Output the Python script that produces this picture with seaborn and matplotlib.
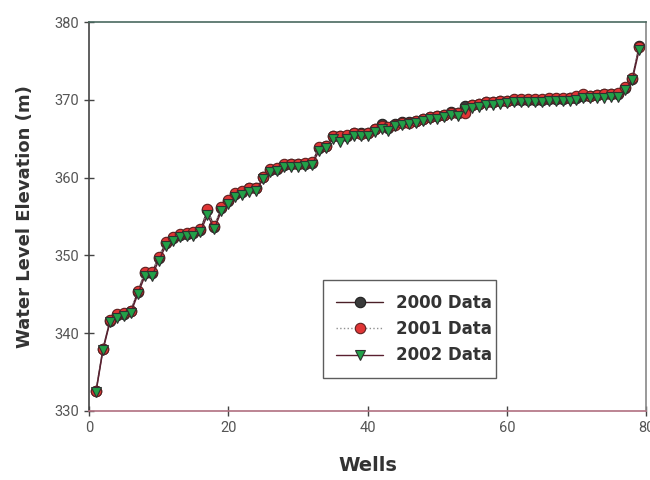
import matplotlib
matplotlib.use("Agg")
import matplotlib.pyplot as plt
import seaborn as sns
import pandas as pd

wells = list(range(1, 80))
w2000 = [332.6, 338.0, 341.6, 342.3, 342.5, 342.9, 345.3, 347.7, 347.7, 349.7,
         351.6, 352.2, 352.6, 352.8, 352.9, 353.3, 355.8, 353.7, 356.1, 357.0,
         357.9, 358.2, 358.6, 358.6, 360.1, 361.0, 361.1, 361.6, 361.7, 361.7,
         361.8, 361.9, 363.8, 364.1, 365.3, 365.3, 365.4, 365.7, 365.7, 365.7,
         366.2, 366.9, 366.4, 366.9, 367.1, 367.2, 367.3, 367.6, 367.8, 367.9,
         368.1, 368.4, 368.3, 369.2, 369.3, 369.5, 369.7, 369.7, 369.8, 369.9,
         370.0, 370.0, 370.0, 370.0, 370.0, 370.1, 370.1, 370.1, 370.2, 370.3,
         370.5, 370.5, 370.6, 370.7, 370.7, 370.8, 371.5, 372.7, 376.9]
w2001 = [332.6, 338.0, 341.7, 342.4, 342.6, 342.9, 345.4, 347.8, 347.8, 349.8,
         351.7, 352.3, 352.8, 352.9, 353.0, 353.4, 355.9, 353.8, 356.2, 357.1,
         358.0, 358.3, 358.7, 358.7, 360.1, 361.1, 361.2, 361.7, 361.8, 361.8,
         361.9, 362.0, 363.9, 364.1, 365.3, 365.3, 365.5, 365.7, 365.6, 365.7,
         366.2, 366.7, 366.5, 366.8, 367.0, 367.0, 367.3, 367.6, 367.8, 367.9,
         368.1, 368.3, 368.3, 368.3, 369.3, 369.5, 369.7, 369.7, 369.8, 369.9,
         370.1, 370.1, 370.1, 370.1, 370.1, 370.2, 370.2, 370.2, 370.3, 370.5,
         370.7, 370.5, 370.6, 370.8, 370.8, 370.9, 371.7, 372.8, 376.8]
w2002 = [332.4, 337.8, 341.4, 342.0, 342.2, 342.6, 345.0, 347.3, 347.3, 349.3,
         351.2, 351.9, 352.3, 352.5, 352.5, 353.0, 355.2, 353.4, 355.7, 356.6,
         357.5, 357.8, 358.2, 358.3, 359.8, 360.7, 360.8, 361.3, 361.4, 361.4,
         361.5, 361.6, 363.4, 363.8, 364.9, 364.6, 365.0, 365.4, 365.4, 365.4,
         365.9, 366.2, 366.0, 366.6, 366.8, 366.9, 367.0, 367.3, 367.5, 367.6,
         367.8, 368.1, 367.9, 368.8, 369.0, 369.1, 369.3, 369.4, 369.5, 369.6,
         369.7, 369.7, 369.7, 369.7, 369.7, 369.8, 369.8, 369.8, 369.9, 370.0,
         370.2, 370.2, 370.3, 370.3, 370.4, 370.4, 371.3, 372.5, 376.4]
labels = ["2000 Data", "2001 Data", "2002 Data"]
x_ticks = [0, 20, 40, 60, 80]
y_ticks = [330, 340, 350, 360, 370, 380]

df = pd.DataFrame({"Well": wells, labels[0]: w2000, labels[1]: w2001, labels[2]: w2002})

sns.set_theme(style="white")
plt.rcParams['font.family'] = ['DejaVu Sans']

fig = plt.figure(figsize=(6.5, 4.8), dpi=100)
ax = fig.add_axes([0.137, 0.144, 0.857, 0.810])

styles = [
    dict(color="#4a2028", linestyle="-", marker="o", markerfacecolor="#3a3a3a",
         markeredgecolor="#202020", markersize=7.5),
    dict(color="#909090", linestyle=":", marker="o", markerfacecolor="#e03535",
         markeredgecolor="#602020", markersize=7.5),
    dict(color="#5a2030", linestyle="-", marker="v", markerfacecolor="#22a048",
         markeredgecolor="#303030", markersize=6.5),
]
for lab, st in zip(labels, styles):
    sns.lineplot(data=df, x="Well", y=lab, ax=ax, label=lab, linewidth=1.0,
                 markeredgewidth=0.8, **st)

ax.set_xlim(0, 80)
ax.set_ylim(330, 380)
ax.set_xticks(x_ticks)
ax.set_yticks(y_ticks)
for t in ax.get_xticklabels() + ax.get_yticklabels():
    t.set_family(['Liberation Sans Narrow', 'Roboto', 'DejaVu Sans'])
    t.set_fontsize(10.5)
    t.set_color("#555555")
ax.tick_params(axis="both", direction="inout", length=7, width=1, color="#444444",
               pad=4, left=True, bottom=True)

ax.set_xlabel("Wells", fontsize=14, fontweight="bold", color="#333333", labelpad=15)
ax.set_ylabel("Water Level Elevation (m)", fontsize=13, fontweight="bold",
              color="#333333", labelpad=14)

ax.spines["left"].set_color("#444444")
ax.spines["bottom"].set_color("#b07080")
ax.spines["top"].set_color("#4a6a60")
ax.spines["right"].set_color("#888888")
for s in ax.spines.values():
    s.set_linewidth(1.2)

leg = ax.legend(loc="lower left", bbox_to_anchor=(0.42, 0.085, 0.31, 0.257),
                mode="expand", frameon=True, fancybox=False, borderpad=0.8,
                borderaxespad=0.0, labelspacing=0.5, handlelength=2.8,
                prop={"weight": "bold", "size": 12})
leg.get_frame().set_edgecolor("#333333")
leg.get_frame().set_linewidth(1.0)
for t in leg.get_texts():
    t.set_color("#333333")

fig.savefig("out.png", dpi=100)
